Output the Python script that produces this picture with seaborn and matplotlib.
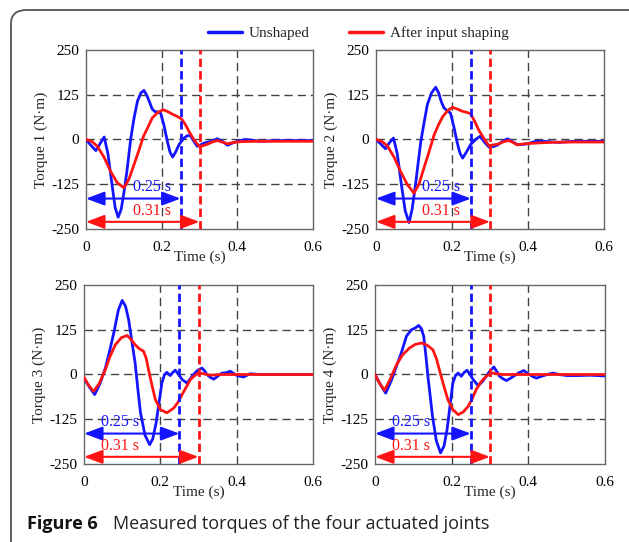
import matplotlib
matplotlib.use("Agg")
import matplotlib.pyplot as plt
from matplotlib.patches import FancyBboxPatch
import seaborn as sns

# ── Data ──────────────────────────────────────────────────────────────────────
t1_blue = [0, 0.012, 0.026, 0.038, 0.048, 0.058, 0.068, 0.077, 0.085, 0.093, 0.100, 0.108,
           0.118, 0.127, 0.136, 0.145, 0.153, 0.160, 0.167, 0.175, 0.182, 0.190, 0.197,
           0.206, 0.215, 0.222, 0.229, 0.237, 0.246, 0.259, 0.267, 0.275, 0.285, 0.294,
           0.303, 0.312, 0.330, 0.347, 0.360, 0.374, 0.387, 0.400, 0.420, 0.440, 0.460,
           0.500, 0.550, 0.600]
v1_blue = [0, -15, -31, -10, 7, -40, -120, -190, -217, -195, -150, -90,
           0, 60, 107, 130, 137, 125, 107, 85, 78, 77, 74,
           40, -5, -35, -49, -35, -14, 4, 10, 12, -5, -19,
           -15, -10, -5, 2, -5, -16, -10, -5, 0, -2, -5,
           -3, -3, -3]
t1_red = [0, 0.015, 0.030, 0.048, 0.065, 0.082, 0.100, 0.113, 0.127, 0.140, 0.152, 0.163,
          0.175, 0.190, 0.204, 0.216, 0.228, 0.240, 0.252, 0.262, 0.272, 0.285, 0.299,
          0.310, 0.321, 0.334, 0.347, 0.360, 0.374, 0.390, 0.410, 0.450, 0.500, 0.600]
v1_red = [0, -5, -19, -50, -89, -120, -135, -112, -70, -30, 9, 33,
          60, 76, 83, 78, 71, 65, 58, 43, 23, 0, -19,
          -17, -13, -7, -3, -7, -12, -8, -6, -5, -5, -5]

t2_blue = [0, 0.012, 0.025, 0.036, 0.046, 0.056, 0.066, 0.077, 0.087, 0.095, 0.104, 0.111,
           0.118, 0.127, 0.135, 0.146, 0.157, 0.165, 0.172, 0.179, 0.188, 0.196, 0.205,
           0.214, 0.221, 0.228, 0.238, 0.249, 0.262, 0.274, 0.286, 0.297, 0.308, 0.319,
           0.333, 0.346, 0.359, 0.372, 0.385, 0.398, 0.420, 0.440, 0.480, 0.520, 0.600]
v2_blue = [0, -12, -26, -8, 4, -40, -120, -200, -232, -195, -126, -65,
           -5, 50, 97, 130, 146, 130, 105, 88, 80, 74, 35,
           -10, -38, -52, -35, -14, 0, 9, -8, -21, -20, -16,
           -5, 2, -6, -14, -14, -12, -5, -5, -8, -5, -5]
t2_red = [0, 0.015, 0.030, 0.048, 0.065, 0.082, 0.100, 0.113, 0.126, 0.140, 0.153, 0.164,
          0.175, 0.188, 0.201, 0.214, 0.227, 0.238, 0.249, 0.260, 0.271, 0.284, 0.297,
          0.310, 0.324, 0.336, 0.350, 0.360, 0.372, 0.390, 0.420, 0.460, 0.520, 0.600]
v2_red = [0, -5, -18, -50, -90, -125, -150, -125, -80, -33, 13, 40,
          63, 80, 90, 85, 79, 76, 72, 50, 25, 3, -17,
          -15, -12, -6, -3, -8, -15, -12, -10, -8, -7, -7]

t3_blue = [0, 0.014, 0.028, 0.042, 0.056, 0.067, 0.078, 0.090, 0.100, 0.109, 0.117, 0.125,
           0.134, 0.141, 0.148, 0.160, 0.172, 0.180, 0.189, 0.197, 0.204, 0.211, 0.217,
           0.226, 0.232, 0.239, 0.248, 0.257, 0.270, 0.280, 0.287, 0.298, 0.309, 0.316,
           0.322, 0.331, 0.340, 0.350, 0.362, 0.373, 0.383, 0.392, 0.401, 0.418, 0.435,
           0.460, 0.600]
v3_blue = [-10, -35, -56, -25, 18, 65, 116, 180, 207, 190, 153, 95,
           32, -40, -107, -170, -196, -180, -135, -75, -24, 0, 6,
           -3, 5, 12, 0, -14, -24, -10, 0, 12, 18, 10,
           0, -8, -13, -5, 4, 5, 9, 3, -3, -7, 2,
           0, 0]
t3_red = [0, 0.012, 0.025, 0.040, 0.056, 0.068, 0.082, 0.098, 0.113, 0.124, 0.134, 0.145,
          0.156, 0.163, 0.169, 0.178, 0.187, 0.200, 0.217, 0.235, 0.246, 0.257, 0.268,
          0.279, 0.290, 0.300, 0.315, 0.330, 0.360, 0.600]
v3_red = [-8, -30, -47, -25, 14, 50, 83, 103, 109, 97, 83, 72,
          65, 45, 14, -30, -70, -98, -107, -94, -78, -56, -35,
          -14, -3, 4, 2, -2, 0, 0]

t4_blue = [0, 0.014, 0.028, 0.042, 0.056, 0.070, 0.082, 0.095, 0.105, 0.114, 0.121, 0.127,
           0.133, 0.138, 0.144, 0.150, 0.160, 0.171, 0.180, 0.188, 0.196, 0.203, 0.210,
           0.217, 0.225, 0.232, 0.240, 0.248, 0.256, 0.269, 0.280, 0.290, 0.300, 0.310,
           0.318, 0.325, 0.334, 0.343, 0.354, 0.364, 0.376, 0.388, 0.396, 0.403, 0.412,
           0.421, 0.440, 0.464, 0.480, 0.500, 0.530, 0.560, 0.600]
v4_blue = [0, -28, -52, -18, 23, 65, 107, 125, 130, 137, 128, 107,
           50, -5, -60, -117, -185, -219, -200, -154, -85, -24, -3,
           4, -5, 5, 12, 0, -14, -31, -20, -5, 10, 21,
           8, -5, -12, -17, -10, -3, 5, 11, 5, 0, -6,
           -10, -3, 4, 0, -3, -3, -2, -4]
t4_red = [0, 0.012, 0.025, 0.040, 0.056, 0.072, 0.090, 0.105, 0.121, 0.136, 0.151, 0.160,
          0.169, 0.179, 0.190, 0.203, 0.217, 0.230, 0.243, 0.254, 0.264, 0.277, 0.290,
          0.300, 0.308, 0.330, 0.360, 0.600]
v4_red = [0, -25, -44, -12, 27, 55, 74, 84, 88, 82, 69, 45,
          9, -30, -70, -98, -112, -105, -89, -67, -42, -20, -5,
          2, 4, 0, 0, 0]

settle_unshaped = 0.25   # settling time marker (s)
settle_shaped = 0.30
label_unshaped = "0.25 s"
label_shaped = "0.31 s"

joints = ["Torque 1 (N·m)", "Torque 2 (N·m)", "Torque 3 (N·m)", "Torque 4 (N·m)"]
series = [(t1_blue, v1_blue, t1_red, v1_red),
          (t2_blue, v2_blue, t2_red, v2_red),
          (t3_blue, v3_blue, t3_red, v3_red),
          (t4_blue, v4_blue, t4_red, v4_red)]

# ── Layout / style ────────────────────────────────────────────────────────────
BLUE = "#1414ff"
RED = "#ff1414"
W, H = 629, 542
axes_px = [(86, 50, 313, 229), (376, 50, 604, 229),
           (84, 285, 313, 464), (375, 285, 605, 464)]
text_x = [0.175, 0.17, 0.095, 0.095]

sns.set_theme(style="white")
plt.rcParams["font.family"] = ["Liberation Serif", "DejaVu Serif"]
plt.rcParams["font.size"] = 11
plt.rcParams["axes.unicode_minus"] = False

fig = plt.figure(figsize=(W / 100, H / 100), dpi=100)

# rounded frame around the figure panel
frame = FancyBboxPatch((11 / W, 1 - 620 / H), (660 - 11) / W, (620 - 10) / H,
                       boxstyle="round,pad=0,rounding_size=0.025",
                       transform=fig.transFigure, fill=False,
                       edgecolor="#555555", linewidth=1.3, clip_on=False)
fig.patches.append(frame)

for i, (ylab, (tb, vb, tr, vr), (x0, y0, x1, y1)) in enumerate(zip(joints, series, axes_px)):
    ax = fig.add_axes([x0 / W, 1 - y1 / H, (x1 - x0) / W, (y1 - y0) / H])

    for gx in [0.2, 0.4]:
        ax.axvline(gx, color="#444444", lw=1.0, ls=(0, (6, 3.5)), zorder=1)
    for gy in [-125, 0, 125]:
        ax.axhline(gy, color="#444444", lw=1.0, ls=(0, (6, 3.5)), zorder=1)

    sns.lineplot(x=tb, y=vb, ax=ax, color=BLUE, lw=2.0, zorder=3,
                 label="Unshaped" if i == 0 else None, legend=False)
    sns.lineplot(x=tr, y=vr, ax=ax, color=RED, lw=2.0, zorder=4,
                 label="After input shaping" if i == 0 else None, legend=False)

    ax.axvline(settle_unshaped, color=BLUE, lw=2.0, ls=(0, (3, 1.5)), zorder=5)
    ax.axvline(settle_shaped, color=RED, lw=2.0, ls=(0, (3, 1.5)), zorder=5)

    arrow = "<|-|>,head_length=0.8,head_width=0.3"
    ax.annotate("", xy=(settle_unshaped, -165), xytext=(0, -165),
                arrowprops=dict(arrowstyle=arrow, color=BLUE, lw=1.5,
                                mutation_scale=14, shrinkA=0, shrinkB=0), zorder=6)
    ax.annotate("", xy=(settle_shaped, -230), xytext=(0, -230),
                arrowprops=dict(arrowstyle=arrow, color=RED, lw=1.5,
                                mutation_scale=14, shrinkA=0, shrinkB=0), zorder=6)
    ax.text(text_x[i], -132, label_unshaped, color=BLUE, ha="center", va="center",
            fontsize=11.5, zorder=6)
    ax.text(text_x[i], -200, label_shaped, color=RED, ha="center", va="center",
            fontsize=11.5, zorder=6)

    ax.set_xlim(0, 0.6)
    ax.set_ylim(-250, 250)
    ax.set_xticks([0, 0.2, 0.4, 0.6])
    ax.set_xticklabels(["0", "0.2", "0.4", "0.6"])
    ax.set_yticks([-250, -125, 0, 125, 250])
    ax.tick_params(length=0, labelsize=11, colors="black")
    ax.tick_params(axis="x", pad=9)
    ax.tick_params(axis="y", pad=5)
    ax.set_xlabel("Time (s)", fontsize=11, labelpad=-3)
    ax.set_ylabel(ylab, fontsize=11, labelpad=2)
    for sp in ax.spines.values():
        sp.set_edgecolor("#666666")
        sp.set_linewidth(1.0)

leg = fig.legend(loc="center", bbox_to_anchor=(0.57, 0.939), ncol=2, frameon=False,
                 handlelength=2.2, handletextpad=0.45, columnspacing=2.6, fontsize=11)
for h in leg.get_lines():
    h.set_linewidth(2.5)

fig.text(27 / W, 1 - 524 / H, "Figure 6", fontsize=13, fontweight="bold",
         family=["Open Sans", "DejaVu Sans"], va="center", ha="left", color="#111111")
fig.text(113 / W, 1 - 524 / H, "Measured torques of the four actuated joints",
         fontsize=13, family=["Open Sans", "DejaVu Sans"], va="center", ha="left",
         color="#222222")

fig.savefig("out.png", dpi=100)
plt.close(fig)
